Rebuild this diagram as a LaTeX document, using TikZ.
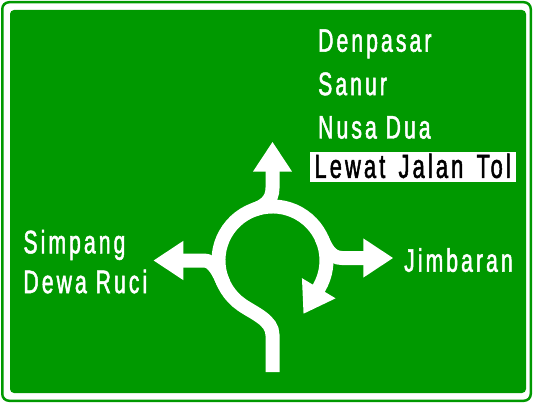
\documentclass[tikz,border=0pt]{standalone}
\usepackage{fontspec}
\usetikzlibrary{arrows.meta, positioning}
\newfontfamily\signfont[FakeStretch=0.65, LetterSpace=9.5, FakeBold=1.5]{Liberation Sans}
\newcommand\widespaces{\spaceskip\fontdimen2\font\advance\spaceskip by 4pt\relax}
\definecolor{signgreen}{RGB}{0,153,0}
\tikzstyle{panel} = [fill=signgreen, rounded corners=4pt]
\tikzstyle{road} = [draw=white, line width=14pt]
\tikzstyle{arrow} = [-{Triangle[length=30pt, width=37pt]}]
\tikzstyle{place} = [text=white, inner sep=0pt, text height=22pt, text depth=0pt, font=\signfont\fontsize{32.5}{34}\selectfont]
\tikzstyle{tollbox} = [place, text=black, fill=white, inner xsep=5pt, inner ysep=4pt,
	font=\signfont\fontsize{33.5}{35}\selectfont\widespaces]
\begin{document}
\begin{tikzpicture}[x=1pt, y=-1pt, node distance=21pt]
	\useasboundingbox (0,0) rectangle (534,403);
	% sign board
	\fill[signgreen, rounded corners=8pt] (1,1) rectangle (532,402);
	\fill[white, rounded corners=6pt] (3.5,3.5) rectangle (529.5,399.5);
	\fill[panel] (10,10) rectangle (526,393);

	\coordinate (hub) at (272.5,260.5);
	\coordinate (north tip) at (272.5,141.7);
	\coordinate (east tip) at (393.3,258);
	\coordinate (west tip) at (153.3,260.5);

	% roundabout
	\draw [road, arrow] (272.5,372) -- (272.5,335) .. controls (272.5,320) and (253.8,313.3) .. (241.5,304.7)
		arc[start angle=125, end angle=391, radius=54] -- ++(-15.4,25.7);
	\draw [road, arrow] (254,209.8) .. controls (263.4,206.4) and (272.5,201) .. (272.5,188) -- (north tip);
	\draw [road, arrow] (321.4,237.7) .. controls (325.6,246.8) and (330,258) .. (342,258) -- (east tip);
	\draw [road, arrow] (223.6,283.3) .. controls (219.4,274.2) and (214,260.5) .. (204,260.5) -- (west tip);

	% destinations
	\node (denpasar) [place, anchor=base west] at (318,51.7) {Denpasar};
	\node (sanur) [place, below=of denpasar.south west, anchor=north west] {Sanur};
	\node (nusadua) [place, below=of sanur.south west, anchor=north west] {Nusa Dua};
	\node (tol) [tollbox, below=13pt of nusadua.south west, anchor=north west, xshift=-8.7pt] {Lewat Jalan Tol};

	\node (simpang) [place, anchor=base west] at (23.3,253.3) {Simpang};
	\node (dewaruci) [place, below=17.4pt of simpang.south west, anchor=north west] {Dewa Ruci};
	\node (jimbaran) [place, anchor=base west] at (404,271.7) {Jimbaran};

\end{tikzpicture}
\end{document}
